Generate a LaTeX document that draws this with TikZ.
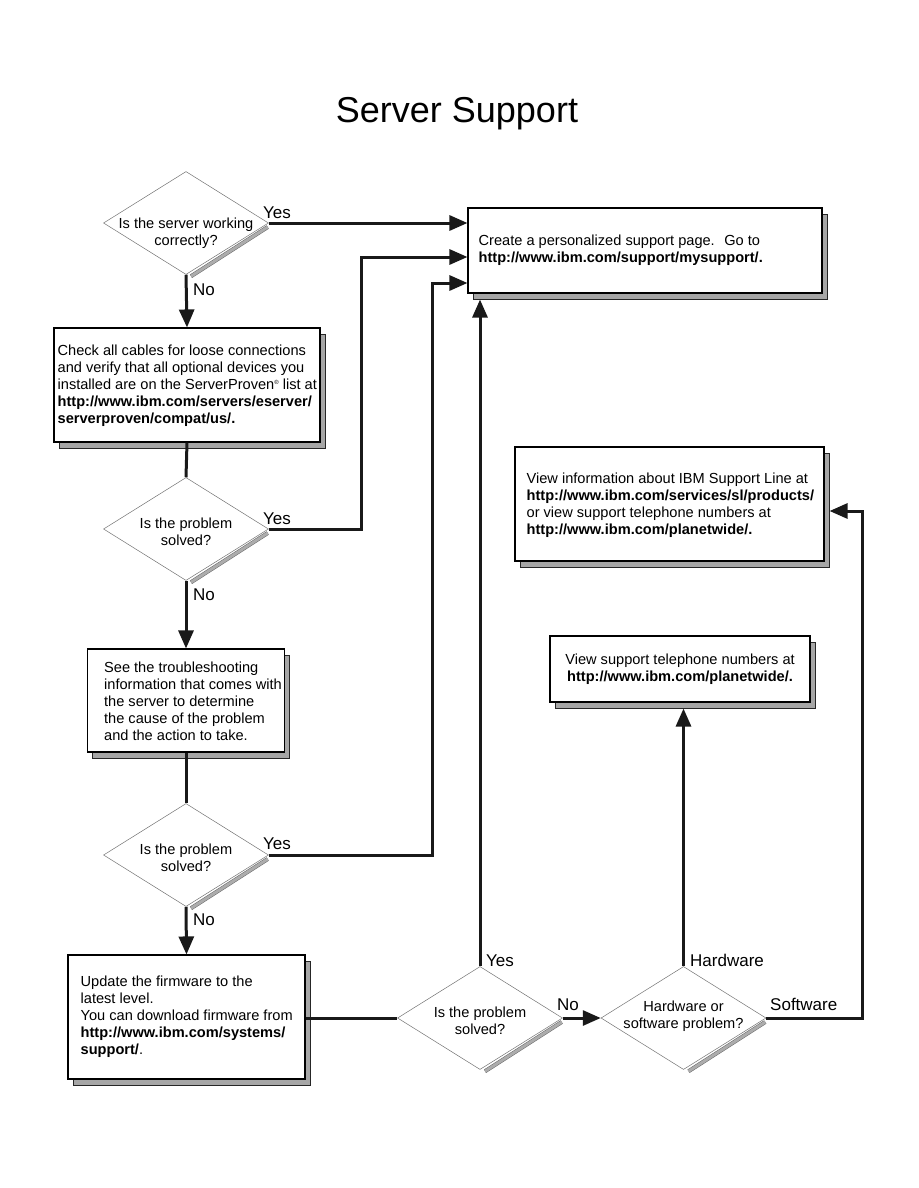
\documentclass[tikz,border=0pt]{standalone}
\usepackage{fontspec}
\setmainfont{Liberation Sans}
\usetikzlibrary{arrows.meta,shapes.geometric,shadows,calc}
\begin{document}
\begin{tikzpicture}[x=1pt,y=-1pt,
  every node/.style={inner sep=0pt},
  txt/.style={font=\fontsize{14.6}{16.9}\selectfont, align=left, anchor=west},
  ctxt/.style={font=\fontsize{14.6}{16.9}\selectfont, align=center},
  lbl/.style={font=\fontsize{17}{20}\selectfont, anchor=base west},
  box/.style={draw=black, line width=1.1pt, fill=white, rectangle,
    drop shadow={shadow xshift=5pt, shadow yshift=-6pt, fill=gray!70, draw=black!85, line width=0.8pt, opacity=1}},
  dia/.style={diamond, draw=black!55, line width=0.5pt, fill=white, minimum width=165pt, minimum height=103pt},
  dshadow/.style={draw=black!60, line width=0.5pt, double=gray!65, double distance=3pt},
  conn/.style={line width=3pt, draw=black!90},
  arr/.style={conn, -{Triangle[length=18pt,width=15pt]}},
]
\useasboundingbox (0,0) rectangle (918,1188);

% title
\node[font=\fontsize{36}{40}\selectfont, anchor=base] (title) at (457,123) {Server Support};

% boxes
\node[box, minimum width=354pt, minimum height=85pt] (b1) at (645,250.5) {};
\node[txt] (t1) at ($(b1.west)+(11,0)$) {Create a personalized support page.~ Go to\\\textbf{http://www.ibm.com/support/mysupport/.}};

\node[box, minimum width=266pt, minimum height=114pt] (b2) at (187,385) {};
\node[txt] (t2) at ($(b2.west)+(4,1)$) {Check all cables for loose connections\\and verify that all optional devices you\\installed are on the ServerProven\raisebox{5pt}{\fontsize{6}{6}\selectfont ®} list at\\\textbf{http://www.ibm.com/servers/eserver/}\\\textbf{serverproven/compat/us/.}};

\node[box, minimum width=197pt, minimum height=103pt] (b3) at (186,700.5) {};
\node[txt] (t3) at ($(b3.west)+(17,1)$) {See the troubleshooting\\information that comes with\\the server to determine\\the cause of the problem\\and the action to take.};

\node[box, minimum width=237pt, minimum height=124pt] (b4) at (186.5,1017) {};
\node[txt] (t4) at ($(b4.west)+(13,0)$) {Update the firmware to the\\latest level.\\You can download firmware from\\\textbf{http://www.ibm.com/systems/}\\\textbf{support/}.};

\node[box, minimum width=309pt, minimum height=114pt] (b5) at (669.5,504) {};
\node[txt] (t5) at ($(b5.west)+(12,1)$) {View information about IBM Support Line at\\\textbf{http://www.ibm.com/services/sl/products/}\\or view support telephone numbers at\\\textbf{http://www.ibm.com/planetwide/.}};

\node[box, minimum width=260pt, minimum height=66pt] (b6) at (680,669) {};
\node[ctxt] (t6) at (b6.center) {View support telephone numbers at\\\textbf{http://www.ibm.com/planetwide/.}};

% diamonds
\node[dia] (d1) at (186,223) {};
\node[ctxt] (q1) at (186,233) {Is the server working\\correctly?};
\node[dia] (d2) at (186,529) {};
\node[ctxt] (q2) at (186,532) {Is the problem\\solved?};
\node[dia] (d3) at (186,855) {};
\node[ctxt] (q3) at (186,858) {Is the problem\\solved?};
\node[dia] (d4) at (480,1018) {};
\node[ctxt] (q4) at (480,1021) {Is the problem\\solved?};
\node[dia] (d5) at (683.5,1018) {};
\node[ctxt] (q5) at (683.5,1016) {Hardware or\\software problem?};

\foreach \d in {d1,d2,d3,d4,d5}{
  \draw[dshadow] ($(\d.east)+(-1,4)$) -- ($(\d.south)+(5,1.5)$);
}

% connectors
\draw[arr] (d1.east) -- (d1.east -| b1.west);
\draw[arr] (d1.south) -- (b2.north);
\draw[conn] (b2.south) -- (d2.north);

\coordinate (y2) at (361,257);
\draw[arr] (d2.east) -| (y2) -- (y2 -| b1.west);
\draw[arr] (d2.south) -- (b3.north);
\draw[conn] (b3.south) -- (d3.north);

\coordinate (y3) at (432,283);
\draw[arr] (d3.east) -| (y3) -- (y3 -| b1.west);
\draw[arr] (d3.south) -- (b4.north);
\draw[conn] (d4.west -| b4.east) -- (d4.west);

\draw[arr] (d4.north) -- ($(d4.north |- b1.south)+(0,6)$);
\draw[arr] (d4.east) -- (d5.west);
\draw[arr] (d5.north) -- ($(d5.north |- b6.south)+(0,6)$);
\coordinate (sw) at (862,511);
\draw[arr] (d5.east) -| (sw) -- ($(sw -| b5.east)+(5,0)$);

% labels
\node[lbl] (l1y) at (263,218) {Yes};
\node[lbl] (l1n) at (193,295) {No};
\node[lbl] (l2y) at (263,524) {Yes};
\node[lbl] (l2n) at (193,600) {No};
\node[lbl] (l3y) at (263,849) {Yes};
\node[lbl] (l3n) at (193,925) {No};
\node[lbl] (l4y) at (486,966) {Yes};
\node[lbl] (l4n) at (557,1010) {No};
\node[lbl] (l5h) at (690,966) {Hardware};
\node[lbl] (l5s) at (770,1010) {Software};
\end{tikzpicture}
\end{document}
